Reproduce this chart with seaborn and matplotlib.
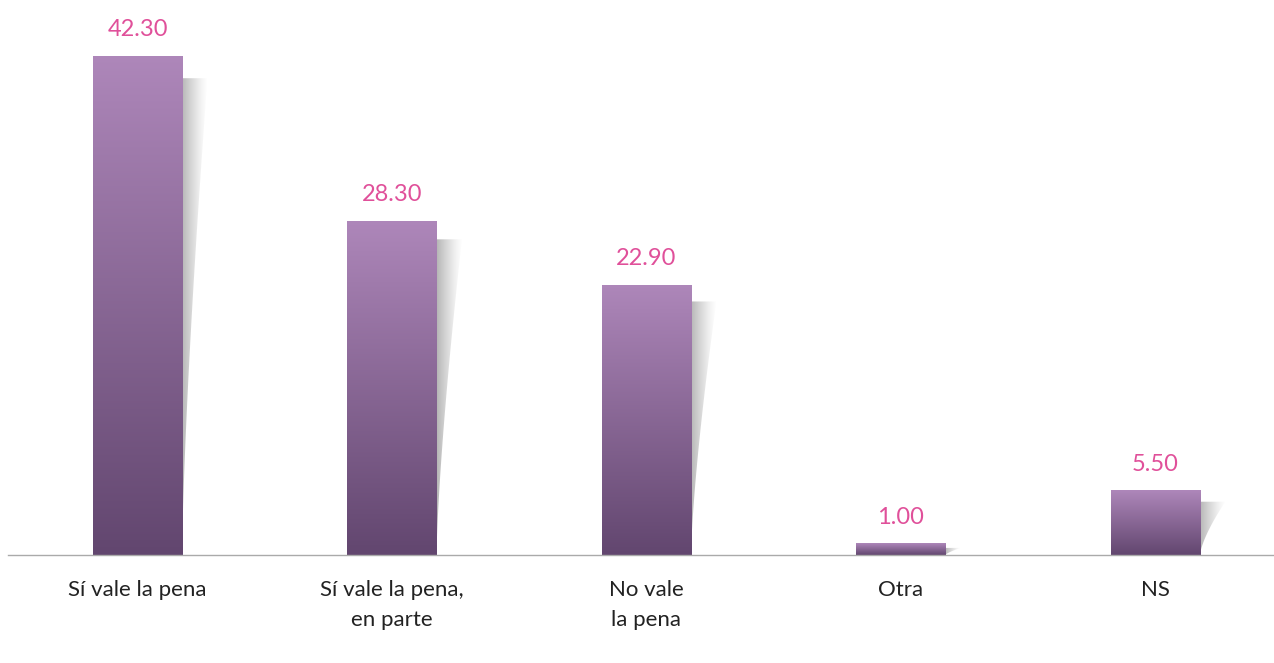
import numpy as np
import pandas as pd
import matplotlib
matplotlib.use("Agg")
import matplotlib.pyplot as plt
from matplotlib.patches import Polygon
import seaborn as sns

categories = ["Sí vale la pena", "Sí vale la pena,\nen parte", "No vale\nla pena", "Otra", "NS"]
values = [42.30, 28.30, 22.90, 1.00, 5.50]

df = pd.DataFrame({"cat": categories, "val": values})

sns.set_style("white")
plt.rcParams["font.family"] = ["Lato", "DejaVu Sans"]

fig = plt.figure(figsize=(12.74, 6.63), dpi=100)
ax = fig.add_axes([8 / 1274, 108 / 663, 1266 / 1274, 555 / 663])

sns.barplot(data=df, x="cat", y="val", ax=ax, width=0.35, color="#8a6a9c",
            edgecolor="none", linewidth=0)

XL = (-0.509, 4.466)
YL = (0, 47)

# vertical gradient inside each bar
top_col = np.array([0.682, 0.529, 0.729])
bot_col = np.array([0.384, 0.275, 0.435])
grad = np.linspace(0, 1, 256)[:, None]
img = top_col * (1 - grad[..., None]) + bot_col * grad[..., None]
img = np.repeat(img, 2, axis=1)

# horizontal fade for the shadow
sh = np.zeros((2, 256, 4))
sh[..., :3] = 0.5
sh[..., 3] = np.linspace(0.65, 0.0, 256) ** 1.3

px = 11.8  # pixels per unit
for p, v in zip(ax.patches, values):
    x0 = p.get_x()
    w = p.get_width()
    xr = x0 + w
    # shadow
    off = (10 + 0.3 * v) / px
    sw = 0.1 if v > 3 else 0.06
    ytop = v - off if v > 3 else v * 0.6
    t = np.linspace(0, 1, 40)
    xs = xr + sw * (1 - t) ** 1.4
    ys = ytop - t * ytop
    pts = [(xr, ytop)] + list(zip(xs, ys)) + [(xr, 0)]
    poly = Polygon(pts, closed=True, facecolor="none", edgecolor="none")
    ax.add_patch(poly)
    im2 = ax.imshow(sh, extent=[xr, xr + sw, 0, ytop], aspect="auto", zorder=1,
                    interpolation="bilinear")
    im2.set_clip_path(poly)
    # gradient bar
    im = ax.imshow(img, extent=[x0, xr, 0, v], aspect="auto", zorder=3,
                   interpolation="bilinear")
    im.set_clip_path(p)
    ax.text(p.get_x() + w / 2, v + 26 / px, f"{v:.2f}", ha="center", va="center",
            color="#e0509a", fontsize=17)

ax.set_xlim(*XL)
ax.set_ylim(*YL)
ax.set_xlabel("")
ax.set_ylabel("")
ax.set_yticks([])
ax.tick_params(axis="x", length=0, pad=18, labelsize=16, colors="#222222")
sns.despine(ax=ax, left=True)
ax.spines["bottom"].set_color("#aaaaaa")
ax.spines["bottom"].set_linewidth(1)
ax.spines["bottom"].set_zorder(5)
for lab in ax.get_xticklabels():
    lab.set_linespacing(1.65)

fig.savefig("out.png", dpi=100)
